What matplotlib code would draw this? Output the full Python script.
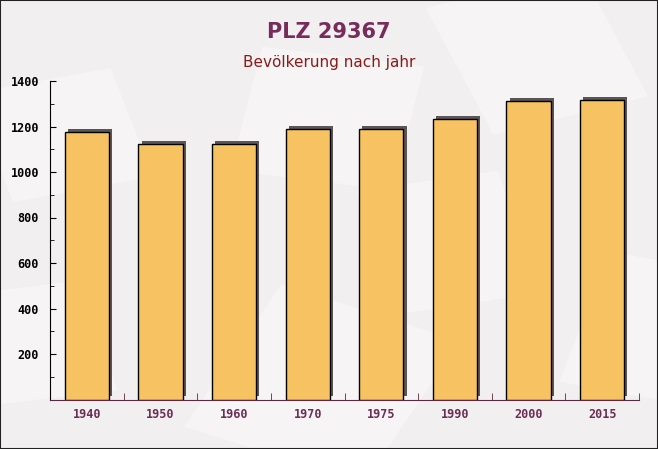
import matplotlib.pyplot as plt
import matplotlib.patheffects as pe
from matplotlib.patches import Rectangle
from matplotlib.ticker import MultipleLocator, FixedLocator
import numpy as np

years = ['1940', '1950', '1960', '1970', '1975', '1990', '2000', '2015']
population = [1176, 1123, 1123, 1190, 1190, 1233, 1313, 1316]

bg = '#f2eff0'
fig = plt.figure(figsize=(6.58, 4.49), dpi=100, facecolor=bg)

# faint envelope shapes in the background
envelopes = [(0.02, 0.55, 0.22, 0.25, 15), (0.35, 0.62, 0.25, 0.28, -10),
             (0.75, 0.70, 0.25, 0.30, 20), (0.28, 0.05, 0.30, 0.35, -25),
             (0.60, 0.30, 0.22, 0.28, 12), (0.85, 0.15, 0.20, 0.30, -15),
             (0.00, 0.10, 0.18, 0.25, 10)]
for ex, ey, ew, eh, ang in envelopes:
    fig.patches.append(Rectangle((ex, ey), ew, eh, angle=ang, transform=fig.transFigure,
                                 facecolor='white', alpha=0.35, edgecolor='none', zorder=-5))

ax = fig.add_axes([50/658, 49.5/449, 589/658, 318.5/449])
ax.set_facecolor('none')

x = np.arange(len(years))
bars = ax.bar(x, population, width=0.6, color='#f7c262', edgecolor='black',
              linewidth=1, zorder=3)
for b in bars:
    b.set_path_effects([pe.SimplePatchShadow(offset=(2.3, 2.3), shadow_rgbFace='#5b5557', alpha=1),
                        pe.Normal()])

ax.set_xlim(-0.5, len(years) - 0.5)
ax.set_ylim(0, 1400)
ax.set_xticks(x)
ax.set_xticklabels(years, fontfamily='DejaVu Sans Mono', fontweight='bold',
                   fontsize=8.5, color='#6b2f56')
ax.xaxis.set_minor_locator(FixedLocator(np.arange(-0.5, len(years), 1.0)))
ax.xaxis.set_tick_params(which='major', length=0, pad=6)
ax.xaxis.set_tick_params(which='minor', direction='in', length=5, color='#5a2a45')

ax.set_yticks(range(200, 1401, 200))
ax.yaxis.set_minor_locator(MultipleLocator(100))
ax.yaxis.set_tick_params(which='major', direction='in', length=4, color='black', pad=8)
ax.yaxis.set_tick_params(which='minor', direction='in', length=3, color='black')
for lbl in ax.get_yticklabels():
    lbl.set_fontfamily('DejaVu Sans Mono')
    lbl.set_fontweight('bold')
    lbl.set_fontsize(8.5)

for s in ['top', 'right']:
    ax.spines[s].set_visible(False)
ax.spines['left'].set_color('black')
ax.spines['bottom'].set_color('#5a2a45')

fig.text(0.5, 1 - 32/449, 'PLZ 29367', ha='center', va='center',
         fontsize=15, fontweight='bold', color='#772c5b')
fig.text(0.5, 1 - 62/449, 'Bevölkerung nach jahr', ha='center', va='center',
         fontsize=11, color='#8b1a1a')

fig.patches.append(Rectangle((0, 0), 1, 1, transform=fig.transFigure,
                             fill=False, edgecolor='#222222', linewidth=1.5))

fig.savefig('out.png', dpi=100, facecolor=bg)
